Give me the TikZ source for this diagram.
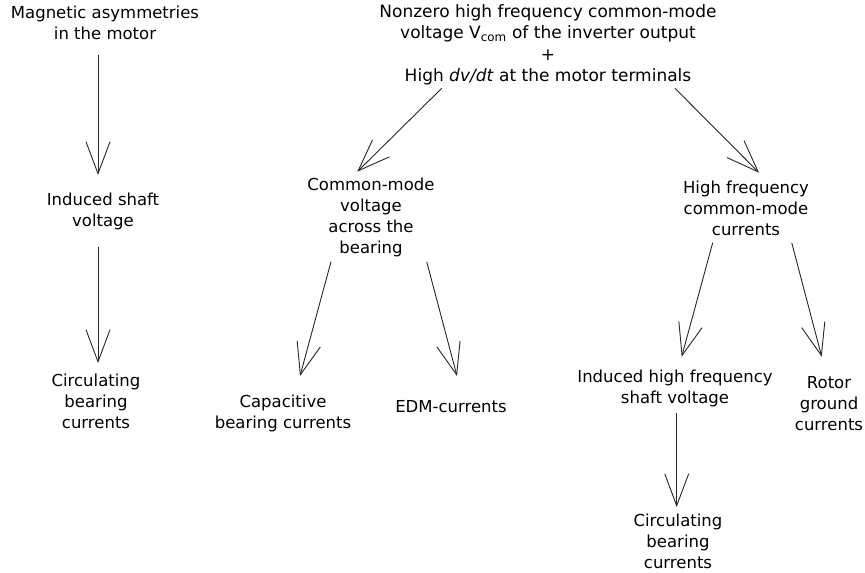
\documentclass[tikz,border=0pt]{standalone}
\usepackage{fontspec}
\setmainfont{DejaVu Sans}
\usetikzlibrary{arrows.meta,calc}
\begin{document}
\begin{tikzpicture}[x=1pt,y=-1pt,
  lbl/.style={align=center,inner sep=0pt,font=\fontsize{16.5}{21}\selectfont},
  arr/.style={draw=black!85,line width=0.9pt,-{Straight Barb[length=32pt,width=24pt,line width=0.9pt]}}]
\useasboundingbox (0,0) rectangle (865,573);
\node[lbl] (mag) at (105,23) {Magnetic asymmetries\\in the motor};
\node[lbl,font=\fontsize{17}{21.4}\selectfont] (top) at (548,45) {Nonzero high frequency common-mode\\voltage V\textsubscript{com} of the inverter output\\+\\High \textit{dv/dt} at the motor terminals};
\node[lbl] (isv) at (103,211) {Induced shaft\\voltage};
\node[lbl] (cbcl) at (96,401) {Circulating\\bearing\\currents};
\node[lbl] (cmv) at (371,217) {Common-mode\\voltage\\across the\\bearing};
\node[lbl] (hfc) at (746,208) {High frequency\\common-mode\\currents};
\node[lbl] (cap) at (283,413) {Capacitive\\bearing currents};
\node[lbl] (edm) at (451,407) {EDM-currents};
\node[lbl] (ihf) at (675,388) {Induced high frequency\\shaft voltage};
\node[lbl] (rgc) at (829,404) {Rotor\\ground\\currents};
\node[lbl] (cbcr) at (678,541) {Circulating\\bearing\\currents};
% connectors
\draw[arr] ($(mag)+(-7,32)$) -- ($(isv)+(-5,-36)$);
\draw[arr] ($(isv)+(-5,36)$) -- ($(cbcl)+(2,-38)$);
\draw[arr] ($(top)+(-106.3,43.3)$) -- ($(cmv)+(-13.7,-45.3)$);
\draw[arr] ($(top)+(127,43.3)$) -- ($(hfc)+(13,-35.3)$);
\draw[arr] ($(cmv)+(-40,44.7)$) -- ($(cap)+(17,-37)$);
\draw[arr] ($(cmv)+(55.7,44.7)$) -- ($(edm)+(6,-31)$);
\draw[arr] ($(hfc)+(-33.3,34.7)$) -- ($(ihf)+(6.7,-31.3)$);
\draw[arr] ($(hfc)+(45.7,34.7)$) -- ($(rgc)+(-7.3,-47.3)$);
\draw[arr] ($(ihf)+(1.7,25.3)$) -- ($(cbcr)+(-1.3,-34)$);
\end{tikzpicture}
\end{document}
